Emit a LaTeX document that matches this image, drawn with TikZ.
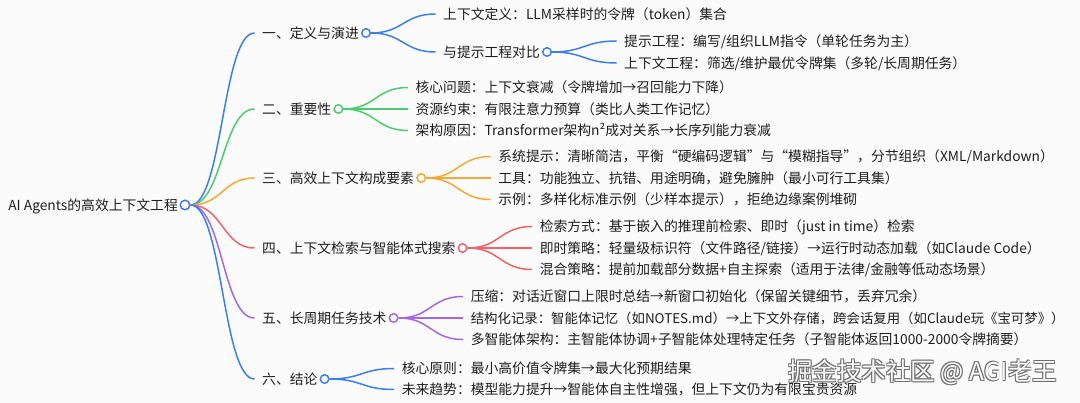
\documentclass[tikz,border=0pt]{standalone}
\usepackage{fontspec}
\setmainfont{Noto Sans CJK SC}
\usetikzlibrary{calc}
\definecolor{cblue}{RGB}{59,126,240}
\definecolor{cgreen}{RGB}{76,204,112}
\definecolor{corange}{RGB}{247,168,52}
\definecolor{cred}{RGB}{242,98,104}
\definecolor{cpurple}{RGB}{165,104,226}
\definecolor{bgc}{RGB}{251,251,252}
\definecolor{txt}{RGB}{30,30,30}
\definecolor{wmgray}{RGB}{110,110,110}
\newcommand\mlink[3]{\draw[link=#1] let \p1=(#2.east), \p2=([xshift=-7.5pt]#3.west) in (\p1) .. controls ({(\x1+\x2)/2},\y1) and ({(\x1+\x2)/2},\y2) .. (\p2);}
\begin{document}
\begin{tikzpicture}[x=1pt,y=-1pt,
  lbl/.style={anchor=west, inner sep=0pt, text height=12.3pt, text depth=1.7pt, font=\fontsize{13.8}{16}\selectfont, text=txt},
  knob/.style={circle, draw=#1, fill=white, line width=1.5pt, minimum size=8.5pt, inner sep=0pt},
  link/.style={draw=#1, line width=1.5pt},
  wm/.style={anchor=west, inner sep=0pt, text height=18pt, text depth=3pt, font=\fontsize{24.5}{28}\selectfont}]
\useasboundingbox (0,0) rectangle (1080,403);
\fill[bgc] (0,0) rectangle (1080,403);

% root
\node[knob=cblue, minimum size=9.5pt] (root) at (185,205) {};
\node[lbl, anchor=east] (rootT) at (178,205) {AI Agents的高效上下文工程};

% level 1
\node[lbl] (t1) at (262,33) {一、定义与演进};
\node[knob=cblue] (k1) at ([xshift=7pt]t1.east) {};
\node[lbl] (t2) at (262,109) {二、重要性};
\node[knob=cgreen] (k2) at ([xshift=7pt]t2.east) {};
\node[lbl] (t3) at (262,178) {三、高效上下文构成要素};
\node[knob=corange] (k3) at ([xshift=7pt]t3.east) {};
\node[lbl] (t4) at (262,248) {四、上下文检索与智能体式搜索};
\node[knob=cred] (k4) at ([xshift=7pt]t4.east) {};
\node[lbl] (t5) at (262,318) {五、长周期任务技术};
\node[knob=cpurple] (k5) at ([xshift=7pt]t5.east) {};
\node[lbl] (t6) at (262,379) {六、结论};
\node[knob=cblue] (k6) at ([xshift=7pt]t6.east) {};

\mlink{cblue}{root}{t1}
\mlink{cgreen}{root}{t2}
\mlink{corange}{root}{t3}
\mlink{cred}{root}{t4}
\mlink{cpurple}{root}{t5}
\mlink{cblue}{root}{t6}

% branch 1
\node[lbl] (t11) at ($(k1)+(77,-19)$) {上下文定义：LLM采样时的令牌（token）集合};
\node[lbl] (t12) at ($(k1)+(77,19)$) {与提示工程对比};
\node[knob=cblue] (k12) at ([xshift=7pt]t12.east) {};
\node[lbl] (t121) at ($(k12)+(77,-11)$) {提示工程：编写/组织LLM指令（单轮任务为主）};
\node[lbl] (t122) at ($(k12)+(77,11)$) {上下文工程：筛选/维护最优令牌集（多轮/长周期任务）};
\mlink{cblue}{k1}{t11}
\mlink{cblue}{k1}{t12}
\mlink{cblue}{k12}{t121}
\mlink{cblue}{k12}{t122}

% branch 2
\node[lbl] (t21) at ($(k2)+(77,-21.5)$) {核心问题：上下文衰减（令牌增加→召回能力下降）};
\node[lbl] (t22) at ($(k2)+(77,0)$) {资源约束：有限注意力预算（类比人类工作记忆）};
\node[lbl] (t23) at ($(k2)+(77,21.5)$) {架构原因：Transformer架构n²成对关系→长序列能力衰减};
\mlink{cgreen}{k2}{t21}
\mlink{cgreen}{k2}{t22}
\mlink{cgreen}{k2}{t23}

% branch 3
\node[lbl] (t31) at ($(k3)+(77,-21.5)$) {系统提示：清晰简洁，平衡“硬编码逻辑”与“模糊指导”，分节组织（XML/Markdown）};
\node[lbl] (t32) at ($(k3)+(77,0)$) {工具：功能独立、抗错、用途明确，避免臃肿（最小可行工具集）};
\node[lbl] (t33) at ($(k3)+(77,21.5)$) {示例：多样化标准示例（少样本提示），拒绝边缘案例堆砌};
\mlink{corange}{k3}{t31}
\mlink{corange}{k3}{t32}
\mlink{corange}{k3}{t33}

% branch 4
\node[lbl] (t41) at ($(k4)+(77,-21.5)$) {检索方式：基于嵌入的推理前检索、即时（just in time）检索};
\node[lbl] (t42) at ($(k4)+(77,0)$) {即时策略：轻量级标识符（文件路径/链接）→运行时动态加载（如Claude Code）};
\node[lbl] (t43) at ($(k4)+(77,21.5)$) {混合策略：提前加载部分数据+自主探索（适用于法律/金融等低动态场景）};
\mlink{cred}{k4}{t41}
\mlink{cred}{k4}{t42}
\mlink{cred}{k4}{t43}

% branch 5
\node[lbl] (t51) at ($(k5)+(77,-21.5)$) {压缩：对话近窗口上限时总结→新窗口初始化（保留关键细节，丢弃冗余）};
\node[lbl, font=\fontsize{13.4}{16}\selectfont] (t52) at ($(k5)+(77,0)$) {结构化记录：智能体记忆（如NOTES.md）→上下文外存储，跨会话复用（如Claude玩《宝可梦》）};
\node[lbl] (t53) at ($(k5)+(77,21.5)$) {多智能体架构：主智能体协调+子智能体处理特定任务（子智能体返回1000-2000令牌摘要）};
\mlink{cpurple}{k5}{t51}
\mlink{cpurple}{k5}{t52}
\mlink{cpurple}{k5}{t53}

% branch 6
\node[lbl] (t61) at ($(k6)+(77,-10.5)$) {核心原则：最小高价值令牌集→最大化预期结果};
\node[lbl] (t62) at ($(k6)+(77,10.5)$) {未来趋势：模型能力提升→智能体自主性增强，但上下文仍为有限宝贵资源};
\mlink{cblue}{k6}{t61}
\mlink{cblue}{k6}{t62}

% watermark
\node[wm, text=wmgray] (wma) at (787.2,373.8) {掘金技术社区 @ AGI老王};
\node[wm, text=wmgray] (wmb) at (788.8,373.8) {掘金技术社区 @ AGI老王};
\node[wm, text=wmgray] (wmc) at (787.2,372.2) {掘金技术社区 @ AGI老王};
\node[wm, text=wmgray] (wmd) at (788.8,372.2) {掘金技术社区 @ AGI老王};
\node[wm, text=white] (wm) at (788,373) {掘金技术社区 @ AGI老王};
\end{tikzpicture}
\end{document}
